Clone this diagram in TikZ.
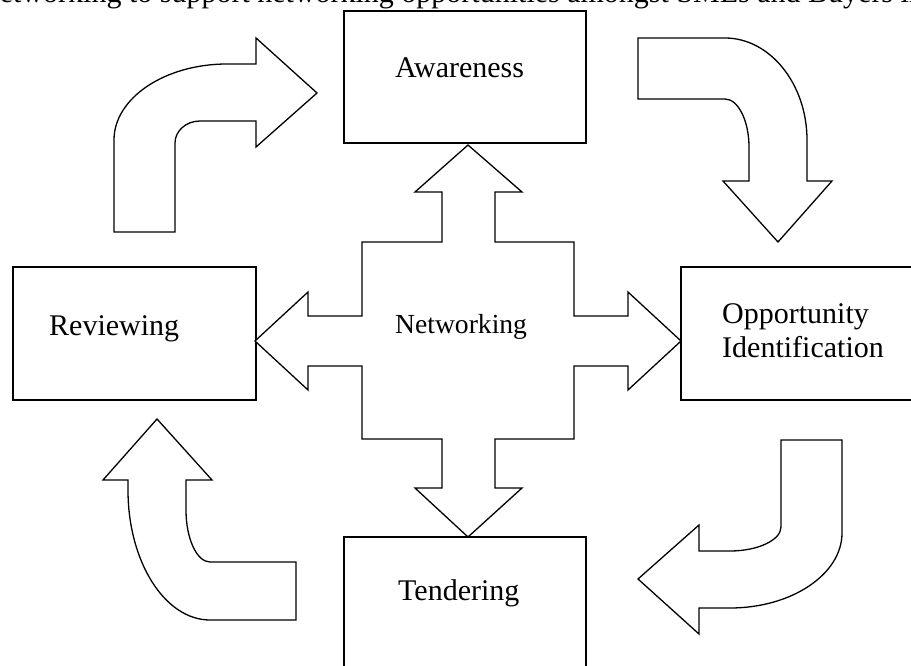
\documentclass[tikz,border=0pt]{standalone}
\usepackage{fontspec}
\setmainfont{Liberation Serif}
\begin{document}
\begin{tikzpicture}[x=1pt,y=-1pt,
  boxstyle/.style={draw=black,line width=1.6pt,inner sep=0pt,outer sep=0pt,fill=white},
  blockarrow/.style={draw=black,line width=1.3pt,line join=miter,fill=white},
  labeltext/.style={inner sep=0pt,anchor=base west,font=\fontsize{30}{34}\selectfont},
  nettext/.style={inner sep=0pt,anchor=base west,font=\fontsize{27.6}{32}\selectfont}]
\useasboundingbox (0,0) rectangle (911,666);
\clip (0,0) rectangle (911,666);
\fill[white] (0,0) rectangle (911,666);

% clipped heading line
\node[labeltext] (heading) at (-22,2.5) {Networking to support networking opportunities amongst SMEs and Buyers in};

% boxes
\node[boxstyle,minimum width=242pt,minimum height=132pt] (aw) at (465,77) {};
\node[boxstyle,minimum width=243pt,minimum height=133pt] (rv) at (134.5,333.5) {};
\node[boxstyle,minimum width=244pt,minimum height=133pt] (op) at (803,333.5) {};
\node[boxstyle,minimum width=242pt,minimum height=143pt] (td) at (465,608.5) {};

% labels
\node[labeltext] (awt) at (395,78) {Awareness};
\node[labeltext] (rvt) at (49,335) {Reviewing};
\node[labeltext] (opt1) at (722,323) {Opportunity};
\node[labeltext] (opt2) at (722,357) {Identification};
\node[labeltext] (tdt) at (398,600) {Tendering};

% central cross arrow
\draw[blockarrow] (468,145) -- (522,192) -- (495,192) -- (495,242) -- (574,242) -- (574,316)
  -- (628,316) -- (628,292) -- (681,341) -- (628,390) -- (628,366) -- (574,366) -- (574,439)
  -- (495,439) -- (495,488) -- (522,488) -- (468,537) -- (415,488) -- (442,488) -- (442,439)
  -- (362,439) -- (362,366) -- (308,366) -- (308,390) -- (255,341) -- (308,292) -- (308,316)
  -- (362,316) -- (362,242) -- (442,242) -- (442,192) -- (415,192) -- cycle;
\node[nettext] (net) at (395,333) {Networking};

% top-left curved arrow
\draw[blockarrow] (114,232) -- (114,140) .. controls (114,98) and (165,64) .. (227,64)
  -- (256,64) -- (256,38) -- (317,93) -- (256,147) -- (256,121) -- (200,121)
  .. controls (186,121) and (175,131) .. (175,143) -- (175,232) -- cycle;

% top-right curved arrow
\draw[blockarrow] (638,38) -- (725,38) .. controls (770,38) and (807,84) .. (807,140)
  -- (807,181) -- (832,181) -- (778,242) -- (723,181) -- (749,181) -- (749,147)
  .. controls (749,120.5) and (738,99) .. (725,99) -- (638,99) -- cycle;

% bottom-right curved arrow
\draw[blockarrow] (781,440) -- (842,440) -- (842,533) .. controls (842,574) and (792,608) .. (730,608)
  -- (699,608) -- (699,634) -- (638,579) -- (699,525) -- (699,551) -- (730,551)
  .. controls (758,551) and (781,540) .. (781,527) -- cycle;

% bottom-left curved arrow
\draw[blockarrow] (296,562) -- (210,562) .. controls (197,562) and (186,539) .. (186,510)
  -- (186,480) -- (212,480) -- (157,419) -- (103,480) -- (128,480) -- (128,490)
  .. controls (128,562) and (165,620) .. (210,620) -- (296,620) -- cycle;
\end{tikzpicture}
\end{document}
